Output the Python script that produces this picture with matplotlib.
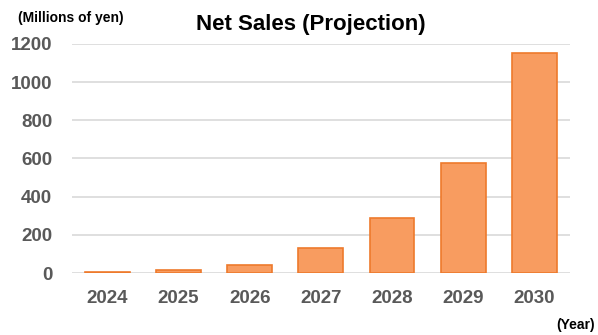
import matplotlib
matplotlib.use("Agg")
import matplotlib.pyplot as plt

years = ["2024", "2025", "2026", "2027", "2028", "2029", "2030"]
sales = [3, 15, 42, 131, 288, 577, 1153]
yticks = [0, 200, 400, 600, 800, 1000, 1200]

plt.rcParams['font.family'] = ['Liberation Sans', 'DejaVu Sans']
fig = plt.figure(figsize=(5.98, 3.35), dpi=100)
ax = fig.add_axes([0.120, 0.185, 0.833, 0.684])
x = range(len(years))
ax.bar(x, sales, width=0.63, color="#F89C60", edgecolor="#EE7A2C", linewidth=1.2, zorder=3)
ax.set_xlim(-0.5, 6.5)
ax.set_ylim(0, 1200)
ax.set_yticks(yticks)
ax.set_yticklabels([str(v) for v in yticks])
ax.set_xticks(list(x))
ax.set_xticklabels(years)
ax.grid(axis="y", color="#D9D9D9", linewidth=1.2, zorder=0)
for s in ax.spines.values():
    s.set_visible(False)
ax.tick_params(length=0, colors="#595959")
for lbl in ax.get_yticklabels():
    lbl.set_fontsize(13.5); lbl.set_fontweight("bold")
for lbl in ax.get_xticklabels():
    lbl.set_fontsize(13.5); lbl.set_fontweight("bold")
ax.tick_params(axis="y", pad=14)
ax.tick_params(axis="x", pad=12)
fig.text(0.52, 0.928, "Net Sales (Projection)", ha="center", va="center", fontsize=16, fontweight="bold", color="black")
fig.text(0.03, 0.945, "(Millions of yen)", ha="left", va="center", fontsize=10, fontweight="bold", color="black")
fig.text(0.995, 0.03, "(Year)", ha="right", va="center", fontsize=10, fontweight="bold", color="black")
fig.savefig("out.png", dpi=100)
